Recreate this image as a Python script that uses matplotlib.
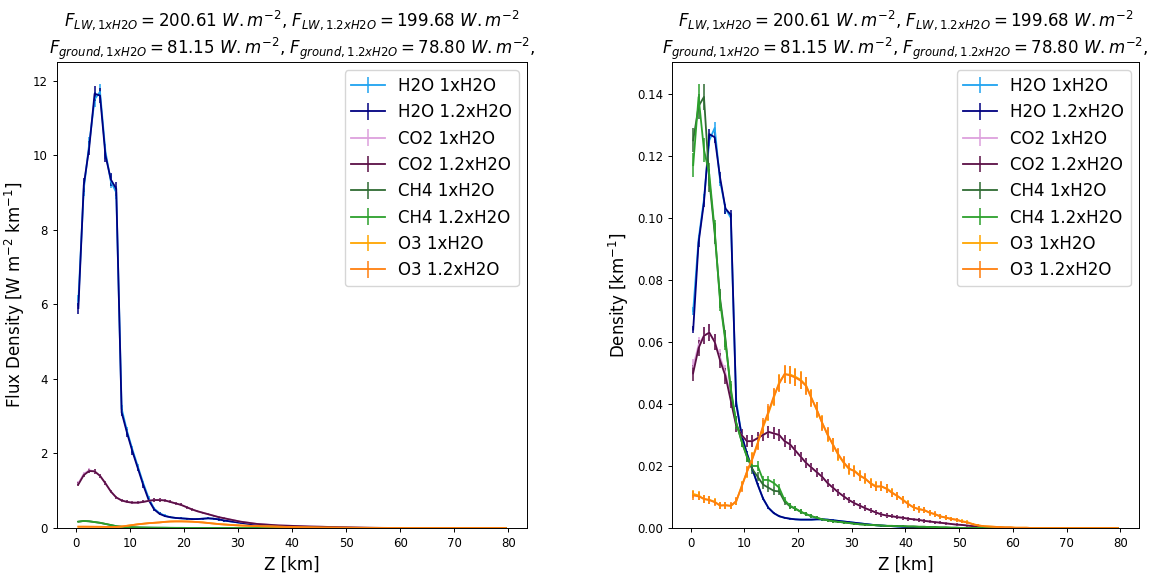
import numpy as np
import matplotlib
matplotlib.use("Agg")
import matplotlib.pyplot as plt

# altitude grid [km]
z = np.arange(0.5, 80, 1.0)

# ---- flux density [W m-2 km-1] ----
h2o_flux_1x = [6.1, 9.1, 10.3, 11.5, 11.7, 10.1, 9.3, 9.0, 3.2, 2.6, 2.1, 1.65, 1.2, 0.8, 0.52, 0.4,
               0.33, 0.29, 0.27, 0.26, 0.25, 0.24, 0.24, 0.25, 0.26, 0.25, 0.23, 0.2, 0.18, 0.16, 0.14,
               0.12, 0.1, 0.085, 0.07, 0.06, 0.05, 0.045, 0.04, 0.035, 0.03, 0.026, 0.022, 0.019, 0.016,
               0.013, 0.011, 0.009, 0.007, 0.005, 0.004, 0.003, 0.002, 0.001] + [0.0] * 26
h2o_flux_12 = [5.9, 9.2, 10.2, 11.65, 11.6, 10.0, 9.35, 9.1, 3.1, 2.55, 2.05, 1.6, 1.15, 0.75, 0.5, 0.38,
               0.32, 0.29, 0.27, 0.26, 0.25, 0.24, 0.24, 0.25, 0.26, 0.25, 0.23, 0.2, 0.18, 0.16, 0.14,
               0.12, 0.1, 0.085, 0.07, 0.06, 0.05, 0.045, 0.04, 0.035, 0.03, 0.026, 0.022, 0.019, 0.016,
               0.013, 0.011, 0.009, 0.007, 0.005, 0.004, 0.003, 0.002, 0.001] + [0.0] * 26
co2_flux_1x = [1.2, 1.45, 1.55, 1.52, 1.4, 1.2, 0.98, 0.82, 0.74, 0.7, 0.68, 0.68, 0.7, 0.73, 0.75, 0.76,
               0.74, 0.7, 0.66, 0.62, 0.56, 0.5, 0.45, 0.41, 0.37, 0.33, 0.29, 0.26, 0.23, 0.2, 0.17,
               0.15, 0.13, 0.11, 0.1, 0.09, 0.08, 0.07, 0.065, 0.06, 0.055, 0.05, 0.045, 0.04, 0.037,
               0.034, 0.03, 0.027, 0.024, 0.021, 0.018, 0.015, 0.012, 0.009, 0.007, 0.005, 0.004, 0.003,
               0.002, 0.001] + [0.0] * 20
co2_flux_12 = [1.17, 1.42, 1.53, 1.52, 1.4, 1.2, 0.98, 0.82, 0.74, 0.7, 0.68, 0.68, 0.7, 0.73, 0.75, 0.75,
               0.74, 0.7, 0.66, 0.62, 0.56, 0.5, 0.45, 0.41, 0.37, 0.33, 0.29, 0.26, 0.23, 0.2, 0.17,
               0.15, 0.13, 0.11, 0.1, 0.09, 0.08, 0.07, 0.065, 0.06, 0.055, 0.05, 0.045, 0.04, 0.037,
               0.034, 0.03, 0.027, 0.024, 0.021, 0.018, 0.015, 0.012, 0.009, 0.007, 0.005, 0.004, 0.003,
               0.002, 0.001] + [0.0] * 20
ch4_flux_1x = [0.17, 0.19, 0.18, 0.16, 0.14, 0.11, 0.08, 0.05, 0.035, 0.027, 0.02, 0.016, 0.013, 0.011,
               0.009, 0.008, 0.007, 0.005, 0.004, 0.004, 0.003, 0.003, 0.002, 0.002, 0.002, 0.001,
               0.001, 0.001, 0.001, 0.001] + [0.0] * 50
ch4_flux_12 = [0.17, 0.19, 0.18, 0.16, 0.14, 0.11, 0.08, 0.05, 0.035, 0.027, 0.02, 0.016, 0.013, 0.011,
               0.009, 0.008, 0.007, 0.005, 0.004, 0.004, 0.003, 0.003, 0.002, 0.002, 0.002, 0.001,
               0.001, 0.001, 0.001, 0.001] + [0.0] * 50
o3_flux_1x = [0.035, 0.035, 0.034, 0.033, 0.032, 0.03, 0.03, 0.03, 0.04, 0.06, 0.08, 0.1, 0.115, 0.13,
              0.14, 0.15, 0.165, 0.175, 0.178, 0.178, 0.175, 0.17, 0.16, 0.15, 0.135, 0.12, 0.105,
              0.095, 0.085, 0.075, 0.068, 0.062, 0.057, 0.052, 0.047, 0.044, 0.041, 0.036, 0.032,
              0.028, 0.024, 0.02, 0.018, 0.016, 0.014, 0.012, 0.011, 0.01, 0.009, 0.008, 0.007, 0.006,
              0.005, 0.005, 0.004, 0.004, 0.003, 0.003, 0.003, 0.002] + [0.002] * 20
o3_flux_12 = [0.035, 0.035, 0.034, 0.033, 0.032, 0.03, 0.03, 0.03, 0.04, 0.06, 0.08, 0.1, 0.115, 0.13,
              0.14, 0.15, 0.165, 0.175, 0.178, 0.178, 0.175, 0.17, 0.16, 0.15, 0.135, 0.12, 0.105,
              0.095, 0.085, 0.075, 0.068, 0.062, 0.057, 0.052, 0.047, 0.044, 0.041, 0.036, 0.032,
              0.028, 0.024, 0.02, 0.018, 0.016, 0.014, 0.012, 0.011, 0.01, 0.009, 0.008, 0.007, 0.006,
              0.005, 0.005, 0.004, 0.004, 0.003, 0.003, 0.003, 0.002] + [0.002] * 20

# ---- density [km-1] ----
h2o_dens_1x = [0.070, 0.093, 0.106, 0.125, 0.129, 0.112, 0.103, 0.100, 0.041, 0.030, 0.024, 0.019,
               0.014, 0.0095, 0.0065, 0.0048, 0.0038, 0.0033, 0.003, 0.0028, 0.0027, 0.0027, 0.0027,
               0.0028, 0.0028, 0.0027, 0.0025, 0.0023, 0.0021, 0.0019, 0.0017, 0.0015, 0.0013, 0.0011,
               0.0009, 0.0008, 0.0007, 0.0006, 0.0005, 0.0004, 0.0003, 0.0003, 0.0002, 0.0002, 0.0002,
               0.0001] + [0.0] * 34
h2o_dens_12 = [0.064, 0.092, 0.105, 0.127, 0.126, 0.113, 0.103, 0.101, 0.040, 0.030, 0.024, 0.019,
               0.014, 0.0095, 0.0065, 0.0048, 0.0038, 0.0033, 0.003, 0.0028, 0.0027, 0.0027, 0.0027,
               0.0028, 0.0028, 0.0027, 0.0025, 0.0023, 0.0021, 0.0019, 0.0017, 0.0015, 0.0013, 0.0011,
               0.0009, 0.0008, 0.0007, 0.0006, 0.0005, 0.0004, 0.0003, 0.0003, 0.0002, 0.0002, 0.0002,
               0.0001] + [0.0] * 34
co2_dens_1x = [0.052, 0.059, 0.062, 0.063, 0.060, 0.055, 0.050, 0.042, 0.033, 0.030, 0.028, 0.028,
               0.029, 0.030, 0.031, 0.0305, 0.030, 0.028, 0.027, 0.025, 0.023, 0.021, 0.0195, 0.018,
               0.0165, 0.0145, 0.013, 0.0115, 0.0102, 0.009, 0.008, 0.0072, 0.0064, 0.0057, 0.005,
               0.0044, 0.004, 0.0038, 0.0035, 0.0033, 0.003, 0.0028, 0.0026, 0.0023, 0.0021, 0.0019,
               0.0017, 0.0015, 0.0013, 0.0011, 0.001, 0.0008, 0.0006, 0.0005, 0.0004, 0.0003, 0.0002,
               0.0002, 0.0001, 0.0001] + [0.0] * 20
co2_dens_12 = [0.050, 0.058, 0.062, 0.063, 0.060, 0.054, 0.049, 0.041, 0.033, 0.030, 0.028, 0.028,
               0.029, 0.030, 0.031, 0.0305, 0.030, 0.028, 0.027, 0.025, 0.023, 0.021, 0.0195, 0.018,
               0.0165, 0.0145, 0.013, 0.0115, 0.0102, 0.009, 0.008, 0.0072, 0.0064, 0.0057, 0.005,
               0.0044, 0.004, 0.0038, 0.0035, 0.0033, 0.003, 0.0028, 0.0026, 0.0023, 0.0021, 0.0019,
               0.0017, 0.0015, 0.0013, 0.0011, 0.001, 0.0008, 0.0006, 0.0005, 0.0004, 0.0003, 0.0002,
               0.0002, 0.0001, 0.0001] + [0.0] * 20
ch4_dens_1x = [0.125, 0.136, 0.139, 0.112, 0.095, 0.074, 0.061, 0.044, 0.034, 0.028, 0.023, 0.019,
               0.0165, 0.014, 0.013, 0.012, 0.0118, 0.0085, 0.007, 0.0062, 0.0052, 0.0045, 0.0038,
               0.0033, 0.0028, 0.0025, 0.0022, 0.002, 0.0018, 0.0016, 0.0014, 0.0012, 0.0011, 0.001,
               0.0009, 0.0008, 0.0007, 0.0007, 0.0006, 0.0006, 0.0005, 0.0005, 0.0004, 0.0004, 0.0003,
               0.0003, 0.0002, 0.0002, 0.0001, 0.0001] + [0.0] * 30
ch4_dens_12 = [0.117, 0.139, 0.122, 0.114, 0.096, 0.073, 0.060, 0.045, 0.034, 0.028, 0.023, 0.020,
               0.020, 0.0155, 0.0155, 0.0145, 0.013, 0.009, 0.0072, 0.0063, 0.0053, 0.0045, 0.0038,
               0.0033, 0.0028, 0.0025, 0.0022, 0.002, 0.0018, 0.0016, 0.0014, 0.0012, 0.0011, 0.001,
               0.0009, 0.0008, 0.0007, 0.0007, 0.0006, 0.0006, 0.0005, 0.0005, 0.0004, 0.0004, 0.0003,
               0.0003, 0.0002, 0.0002, 0.0001, 0.0001] + [0.0] * 30
o3_dens_1x = [0.011, 0.0105, 0.0093, 0.0091, 0.0085, 0.0072, 0.0074, 0.0071, 0.0085, 0.0135, 0.018,
              0.0225, 0.0275, 0.0325, 0.037, 0.042, 0.047, 0.0495, 0.0495, 0.0488, 0.0478, 0.046,
              0.042, 0.038, 0.034, 0.030, 0.027, 0.0235, 0.021, 0.019, 0.0185, 0.017, 0.0158, 0.0145,
              0.0135, 0.0133, 0.0128, 0.0115, 0.0102, 0.0092, 0.0078, 0.0066, 0.0062, 0.0057, 0.005,
              0.0044, 0.0038, 0.0033, 0.003, 0.0026, 0.0022, 0.0019, 0.0013, 0.0008, 0.0006, 0.0005,
              0.0004, 0.0003, 0.0002, 0.0002, 0.0001, 0.0001, 0.0001] + [0.0] * 17
o3_dens_12 = [0.0105, 0.0102, 0.0094, 0.009, 0.0083, 0.0073, 0.0073, 0.0072, 0.0087, 0.0132, 0.0182,
              0.0222, 0.0272, 0.033, 0.0375, 0.0425, 0.0465, 0.0497, 0.0492, 0.0485, 0.0475, 0.0458,
              0.0418, 0.0382, 0.0338, 0.0302, 0.0268, 0.0238, 0.0212, 0.0192, 0.0183, 0.0168, 0.016,
              0.0143, 0.0133, 0.0135, 0.0126, 0.0113, 0.0104, 0.009, 0.0077, 0.0067, 0.006, 0.0058,
              0.0049, 0.0045, 0.0037, 0.0034, 0.0029, 0.0027, 0.0021, 0.0018, 0.0012, 0.0009, 0.0006,
              0.0005, 0.0004, 0.0003, 0.0002, 0.0002, 0.0001, 0.0001, 0.0001] + [0.0] * 17

labels = ["H2O 1xH2O", "H2O 1.2xH2O", "CO2 1xH2O", "CO2 1.2xH2O",
          "CH4 1xH2O", "CH4 1.2xH2O", "O3 1xH2O", "O3 1.2xH2O"]
colors = ["#1fa3f0", "navy", "plum", "#5a0f45", "#2f6b33", "#2ca02c", "orange", "#ff7f0e"]

flux = [h2o_flux_1x, h2o_flux_12, co2_flux_1x, co2_flux_12,
        ch4_flux_1x, ch4_flux_12, o3_flux_1x, o3_flux_12]
dens = [h2o_dens_1x, h2o_dens_12, co2_dens_1x, co2_dens_12,
        ch4_dens_1x, ch4_dens_12, o3_dens_1x, o3_dens_12]

# monte-carlo noise scale (error ~ k * sqrt(value))
k_flux = [0.06, 0.06, 0.05, 0.05, 0.03, 0.03, 0.03, 0.03]
k_dens = [0.005, 0.005, 0.011, 0.011, 0.011, 0.011, 0.013, 0.013]

title = (r"$F_{LW, 1xH2O} = 200.61\ W.m^{-2}$, $F_{LW, 1.2xH2O} = 199.68\ W.m^{-2}$" + "\n" +
         r"$F_{ground, 1xH2O} = 81.15\ W.m^{-2}$, $F_{ground, 1.2xH2O} = 78.80\ W.m^{-2}$,")

plt.rcParams["axes.linewidth"] = 0.7
plt.rcParams["xtick.major.width"] = 0.7
plt.rcParams["ytick.major.width"] = 0.7
plt.rcParams["xtick.major.size"] = 3
plt.rcParams["ytick.major.size"] = 3

fig = plt.figure(figsize=(11.54, 5.73), dpi=100)
ax1 = fig.add_axes([0.0494, 0.0785, 0.4073, 0.8133])
ax2 = fig.add_axes([0.5823, 0.0785, 0.4047, 0.8133])

for ax, data, ks in [(ax1, flux, k_flux), (ax2, dens, k_dens)]:
    for y, lab, c, k in zip(data, labels, colors, ks):
        y = np.array(y)
        ax.errorbar(z, y, yerr=k * np.sqrt(y), color=c, label=lab, lw=1.3, elinewidth=1.1)
    ax.set_ylim(bottom=0)
    ax.tick_params(labelsize=8.5)
    ax.set_xlabel("Z [km]", fontsize=12)
    ax.set_title(title, fontsize=12, pad=5)
    ax.legend(loc="upper right", fontsize=12)

ax1.set_ylabel(r"Flux Density [W m$^{-2}$ km$^{-1}$]", fontsize=12)
ax2.set_ylabel(r"Density [km$^{-1}$]", fontsize=12)

fig.savefig("out.png", dpi=100)
